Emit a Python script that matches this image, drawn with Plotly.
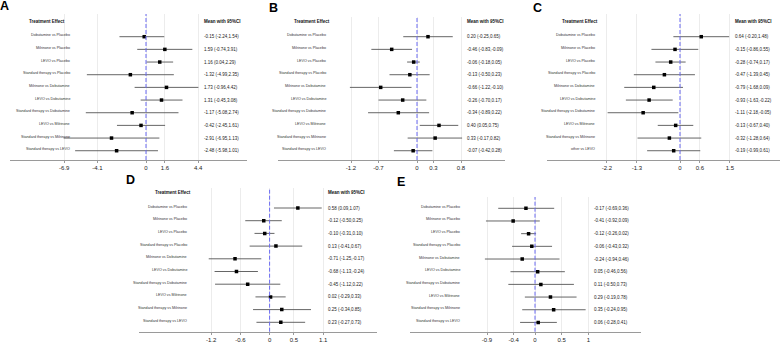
import plotly.graph_objects as go

W, H = 782, 342
FONT = "Liberation Sans, Arial, sans-serif"

# ---------------- data ----------------
comparisons = ["Dobutamine vs Placebo", "Milrinone vs Placebo", "LEVO vs Placebo",
               "Standard therapy vs Placebo", "Milrinone vs Dobutamine", "LEVO vs Dobutamine",
               "Standard therapy vs Dobutamine", "LEVO vs Milrinone",
               "Standard therapy vs Milrinone", "Standard therapy vs LEVO"]
comparisons_C = ["Dobutamine vs Placebo", "Milrinone vs Placebo", "LEVO vs Placebo",
                 "Standard therapy vs Placebo", "Milrinone vs Dobutamine", "LEVO vs Dobutamine",
                 "Standard therapy vs Dobutamine", "LEVO vs Milrinone",
                 "Standard therapy vs Milrinone", "other vs LEVO"]

mean_A = [-0.15, 1.59, 1.16, -1.32, 1.73, 1.31, -1.17, -0.42, -2.91, -2.48]
lo_A = [-2.24, -0.74, 0.04, -4.99, -0.96, -0.45, -5.08, -2.45, -6.95, -5.98]
hi_A = [1.54, 3.91, 2.29, 2.35, 4.42, 3.08, 2.74, 1.61, 1.13, 1.01]
ticks_A = ["-6.9", "-4.1", "0", "1.6", "4.4"]

mean_B = [0.20, -0.46, -0.06, -0.13, -0.66, -0.26, -0.34, 0.40, 0.33, -0.07]
lo_B = [-0.25, -0.83, -0.18, -0.50, -1.22, -0.70, -0.89, 0.05, -0.17, -0.42]
hi_B = [0.65, -0.09, 0.05, 0.23, -0.10, 0.17, 0.22, 0.75, 0.82, 0.28]
ticks_B = ["-1.2", "-0.7", "0", "0.3", "0.8"]

mean_C = [0.64, -0.15, -0.28, -0.47, -0.79, -0.93, -1.11, -0.13, -0.32, -0.19]
lo_C = [-0.20, -0.86, -0.74, -1.39, -1.68, -1.63, -2.18, -0.67, -1.28, -0.99]
hi_C = [1.48, 0.55, 0.17, 0.45, 0.09, -0.22, -0.05, 0.40, 0.64, 0.61]
ticks_C = ["-2.2", "-1.3", "0", "0.6", "1.5"]

mean_D = [0.58, -0.12, -0.10, 0.13, -0.71, -0.68, -0.45, 0.02, 0.25, 0.23]
lo_D = [0.09, -0.50, -0.31, -0.41, -1.25, -1.13, -1.12, -0.29, -0.34, -0.27]
hi_D = [1.07, 0.25, 0.10, 0.67, -0.17, -0.24, 0.22, 0.33, 0.85, 0.73]
ticks_D = ["-1.2", "-0.6", "0", "0.5", "1.1"]

mean_E = [-0.17, -0.41, -0.12, -0.06, -0.24, 0.05, 0.11, 0.29, 0.35, 0.06]
lo_E = [-0.69, -0.92, -0.26, -0.43, -0.94, -0.46, -0.50, -0.19, -0.24, -0.28]
hi_E = [0.36, 0.09, 0.02, 0.32, 0.46, 0.56, 0.73, 0.78, 0.95, 0.41]
ticks_E = ["-0.9", "-0.4", "0", "0.5", "1"]

header_left = "Treatment Effect"
header_right = "Mean with 95%CI"

# ---------------- layout (pixel geometry) ----------------
panels = [
    dict(letter="A", lpos=(4, 6), labels=comparisons, m=mean_A, lo=lo_A, hi=hi_A, ticks=ticks_A,
         ax=(10, 247), zero=146, scale=11.85, y0=36.7, dy=12.67, axy=160, top=14, hy=21.7,
         xh=27, xl=72, xv=202),
    dict(letter="B", lpos=(273, 8), labels=comparisons, m=mean_B, lo=lo_B, hi=hi_B, ticks=ticks_B,
         ax=(278, 505), zero=417, scale=55.0, y0=36.7, dy=12.67, axy=160, top=17, hy=21.7,
         xh=292, xl=328, xv=465),
    dict(letter="C", lpos=(537, 8), labels=comparisons_C, m=mean_C, lo=lo_C, hi=hi_C, ticks=ticks_C,
         ax=(547, 780), zero=680, scale=33.2, y0=36.7, dy=12.67, axy=160, top=14, hy=21.7,
         xh=560, xl=597, xv=733),
    dict(letter="D", lpos=(130, 180), labels=comparisons, m=mean_D, lo=lo_D, hi=hi_D, ticks=ticks_D,
         ax=(139, 377), zero=269.6, scale=48.7, y0=208, dy=12.7, axy=331.7, top=188, hy=192.3,
         xh=152.7, xl=189.3, xv=326),
    dict(letter="E", lpos=(401, 182), labels=comparisons, m=mean_E, lo=lo_E, hi=hi_E, ticks=ticks_E,
         ax=(410, 641), zero=535, scale=53.3, y0=208.3, dy=12.68, axy=331.7, top=197, hy=192.3,
         xh=425, xl=462, xv=592),
]

fig = go.Figure()
layout = dict(width=W, height=H, margin=dict(l=0, r=0, t=0, b=0),
              paper_bgcolor="white", plot_bgcolor="white", showlegend=False,
              font=dict(family=FONT, color="#222"))
annotations = []
shapes = []

for k, p in enumerate(panels):
    n = k + 1
    xa = "x" if n == 1 else f"x{n}"
    ya = "y" if n == 1 else f"y{n}"
    xkey = "xaxis" if n == 1 else f"xaxis{n}"
    ykey = "yaxis" if n == 1 else f"yaxis{n}"
    x0p, x1p = p["ax"]
    xr = [(x0p - p["zero"]) / p["scale"], (x1p - p["zero"]) / p["scale"]]
    ib = (p["axy"] - p["y0"]) / p["dy"]
    it = (p["top"] - p["y0"]) / p["dy"]
    layout[xkey] = dict(domain=[x0p / W, x1p / W], range=xr, anchor=ya,
                        tickvals=[float(t) for t in p["ticks"]], ticktext=p["ticks"],
                        showline=True, linecolor="#9a9a9a", linewidth=1.2,
                        ticks="outside", ticklen=2, tickwidth=1, tickcolor="#9a9a9a",
                        showgrid=True, gridcolor="#ececec", gridwidth=1,
                        zeroline=False, tickfont=dict(size=6, color="#222"),
                        fixedrange=True)
    layout[ykey] = dict(domain=[1 - p["axy"] / H, 1 - p["top"] / H], range=[-ib, -it],
                        anchor=xa, showgrid=False, zeroline=False, showticklabels=False,
                        showline=False, ticks="", fixedrange=True)
    rows = [-i for i, _ in enumerate(p["labels"])]
    fig.add_trace(go.Scatter(
        x=p["m"], y=rows, mode="markers", xaxis=xa, yaxis=ya,
        marker=dict(symbol="square", size=3.5, color="black"),
        error_x=dict(type="data", symmetric=False,
                     array=[h - m for h, m in zip(p["hi"], p["m"])],
                     arrayminus=[m - l for m, l in zip(p["m"], p["lo"])],
                     width=0, color="#555", thickness=0.9),
        hoverinfo="skip"))
    shapes.append(dict(type="line", xref=xa, yref=f"{ya} domain", x0=0, x1=0, y0=0, y1=1,
                       line=dict(color="#6a6af2", width=1, dash="4px,2px")))
    # panel letter
    annotations.append(dict(xref="paper", yref="paper", x=p["lpos"][0] / W, y=1 - p["lpos"][1] / H,
                            text=f"<b>{p['letter']}</b>", showarrow=False,
                            xanchor="center", yanchor="middle",
                            font=dict(size=12.5, color="black", family=FONT)))
    hy = -(p["hy"] - p["y0"]) / p["dy"]
    annotations.append(dict(xref="paper", yref=ya, x=p["xh"] / W, y=hy, text=f"<b>{header_left}</b>",
                            showarrow=False, xanchor="left", yanchor="middle",
                            font=dict(size=4.5, color="#111", family=FONT)))
    annotations.append(dict(xref="paper", yref=ya, x=p["xv"] / W, y=hy, text=f"<b>{header_right}</b>",
                            showarrow=False, xanchor="left", yanchor="middle",
                            font=dict(size=4.5, color="#111", family=FONT)))
    for i, lab in enumerate(p["labels"]):
        annotations.append(dict(xref="paper", yref=ya, x=p["xl"] / W, y=rows[i], text=lab,
                                showarrow=False, xanchor="right", yanchor="middle", yshift=1.5,
                                font=dict(size=3.7, color="#333", family=FONT)))
        txt = f"{p['m'][i]:.2f} ({p['lo'][i]:.2f},{p['hi'][i]:.2f})"
        annotations.append(dict(xref="paper", yref=ya, x=p["xv"] / W, y=rows[i], text=txt,
                                showarrow=False, xanchor="left", yanchor="middle",
                                font=dict(size=4.5, color="#222", family=FONT)))

layout["annotations"] = annotations
layout["shapes"] = shapes
fig.update_layout(**layout)
fig.write_html("out.html")
